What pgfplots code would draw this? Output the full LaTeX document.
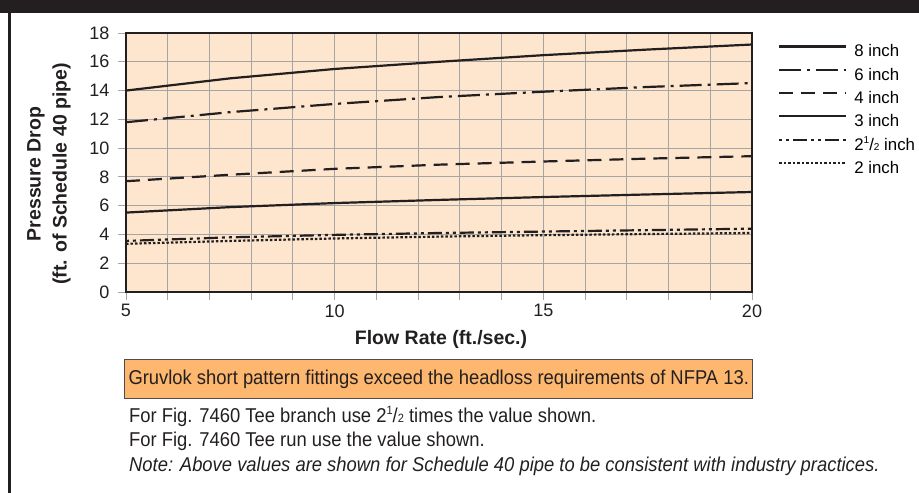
\documentclass[border=0pt]{standalone}
\usepackage{fontspec}
\setmainfont{Liberation Sans}
\newfontfamily\narrow[FakeStretch=0.92]{Liberation Sans}
\usepackage{pgfplots}
\pgfplotsset{compat=1.18}
\definecolor{peach}{RGB}{253,230,205}
\definecolor{gridgray}{RGB}{165,165,165}
\definecolor{boxorange}{RGB}{253,183,110}
\definecolor{darkline}{RGB}{35,31,32}
\begin{document}
\begin{tikzpicture}
\useasboundingbox (0,0) rectangle (919bp,-493bp);
\fill[darkline] (0,0) rectangle (919bp,-13bp);
\fill[darkline] (8bp,0) rectangle (11bp,-493bp);
\begin{axis}[
  at={(126bp,-292bp)}, anchor=south west,
  scale only axis, width=626bp, height=259bp,
  xmin=5, xmax=20, ymin=0, ymax=18,
  xtick={5,10,15,20}, minor x tick num=4,
  ytick={0,2,...,18},
  grid=both,
  major grid style={gridgray, line width=0.9bp},
  minor grid style={gridgray, line width=0.9bp},
  axis background/.style={fill=peach},
  axis line style={darkline, line width=2.4bp},
  tick align=outside, tick pos=left,
  major tick length=8bp, minor tick length=8bp,
  every tick/.style={gridgray, line width=0.9bp},
  /pgf/number format/assume math mode=true,
  tick label style={font=\fontsize{18bp}{20bp}\selectfont, text=darkline},
  xticklabel style={yshift=-1bp},
  yticklabel style={xshift=-5bp},
  legend style={at={(1.0415,0.700)}, anchor=west, draw=none, fill=none,
    row sep=7.2bp, inner sep=0pt, font=\fontsize{16.8bp}{18bp}\selectfont,
    nodes={inner sep=0pt, text height=12.5bp, text depth=3.6bp}},
  legend cell align=left,
  legend image code/.code={\draw[#1] (0bp,6bp) -- (67bp,6bp);},
  legend style={column sep=7bp},
]
\addplot[darkline, line width=2.2bp] coordinates {(5,14.0) (7.5,14.85) (10,15.5) (12.5,16.0) (15,16.46) (17.5,16.85) (20,17.2)};
\addlegendentry{8 inch}
\addplot[darkline, line width=2.2bp, dash pattern=on 22bp off 6bp on 3bp off 6bp] coordinates {(5,11.8) (7.5,12.5) (10,13.07) (12.5,13.55) (15,13.92) (17.5,14.25) (20,14.52)};
\addlegendentry{6 inch}
\addplot[darkline, line width=2.2bp, dash pattern=on 14bp off 8bp] coordinates {(5,7.7) (7.5,8.15) (10,8.56) (12.5,8.85) (15,9.07) (17.5,9.27) (20,9.44)};
\addlegendentry{4 inch}
\addplot[darkline, line width=2.2bp] coordinates {(5,5.52) (7.5,5.9) (10,6.18) (12.5,6.4) (15,6.6) (17.5,6.78) (20,6.95)};
\addlegendentry{3 inch}
\addplot[darkline, line width=2.2bp, dash pattern=on 3bp off 4bp on 3bp off 4bp on 14bp off 4bp] coordinates {(5,3.55) (7.5,3.8) (10,3.97) (12.5,4.1) (15,4.2) (17.5,4.3) (20,4.4)};
\addlegendentry{2\raisebox{0.75ex}{\fontsize{10bp}{10bp}\selectfont 1}/{\fontsize{10bp}{10bp}\selectfont 2} inch}
\addplot[darkline, line width=2.2bp, dash pattern=on 2.5bp off 2bp] coordinates {(5,3.35) (7.5,3.55) (10,3.72) (12.5,3.85) (15,3.95) (17.5,4.03) (20,4.1)};
\addlegendentry{2 inch}
\end{axis}
\node[rotate=90, align=center, font=\bfseries\fontsize{19.5bp}{26bp}\selectfont, text=darkline] at (49bp,-174bp) {Pressure Drop\\(ft. of Schedule 40 pipe)};
\node[font=\bfseries\fontsize{19.5bp}{20bp}\selectfont, text=darkline] at (441bp,-339bp) {Flow Rate (ft./sec.)};
\node[draw=darkline!80, line width=1bp, fill=boxorange, anchor=north west, minimum height=39bp, inner xsep=4bp, font=\narrow\fontsize{20bp}{22bp}\selectfont, text=darkline] at (124bp,-359bp) {Gruvlok short pattern fittings exceed the headloss requirements of NFPA 13.};
\node[anchor=west, inner sep=0pt, font=\narrow\fontsize{20bp}{22bp}\selectfont, text=darkline] at (129bp,-416.5bp) {For Fig. 7460 Tee branch use 2\raisebox{0.8ex}{\fontsize{12bp}{12bp}\selectfont 1}/{\fontsize{12bp}{12bp}\selectfont 2} times the value shown.};
\node[anchor=west, inner sep=0pt, font=\narrow\fontsize{20bp}{22bp}\selectfont, text=darkline] at (129bp,-441.5bp) {For Fig. 7460 Tee run use the value shown.};
\node[anchor=west, inner sep=0pt, font=\narrow\itshape\fontsize{20bp}{22bp}\selectfont, text=darkline] at (129bp,-466bp) {Note: Above values are shown for Schedule 40 pipe to be consistent with industry practices.};
\end{tikzpicture}
\end{document}
